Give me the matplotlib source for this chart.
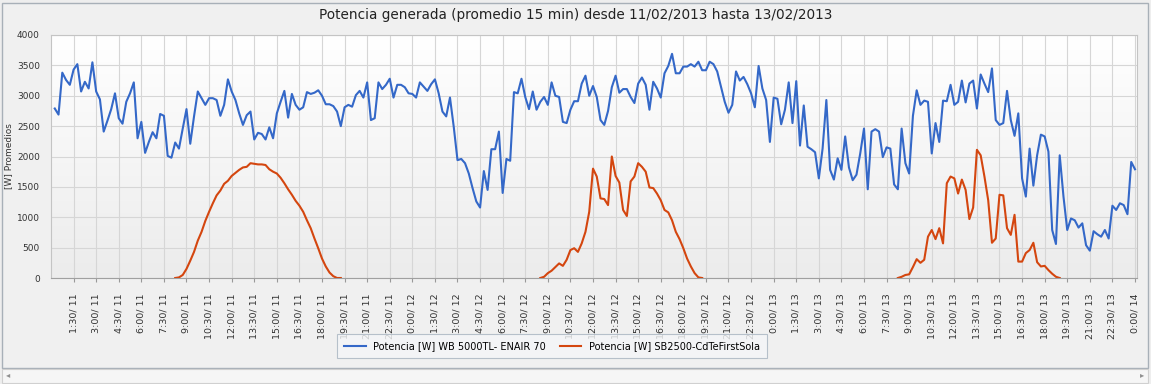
import numpy as np
import pandas as pd
import matplotlib
matplotlib.use("Agg")
import matplotlib.pyplot as plt
from matplotlib.patches import Rectangle

# Datos (promedio 15 min)
inicio = "2013-02-11 00:15"

potencia_wb = [
    2790, 2690, 3380, 3260, 3180, 3430, 3520, 3070, 3230, 3120, 3550, 3070,
    2940, 2410, 2590, 2780, 3040, 2630, 2540, 2900, 3040, 3220, 2300, 2570,
    2060, 2240, 2400, 2300, 2700, 2670, 2010, 1980, 2230, 2130, 2460, 2780,
    2210, 2660, 3070, 2960, 2850, 2960, 2960, 2930, 2670, 2850, 3270, 3070,
    2930, 2710, 2520, 2680, 2740, 2280, 2390, 2370, 2280, 2480, 2300, 2710,
    2900, 3080, 2640, 3030, 2850, 2770, 2810, 3060, 3030, 3050, 3090, 3000,
    2860, 2860, 2830, 2740, 2500, 2810, 2850, 2820, 3010, 3080, 2970, 3220,
    2600, 2630, 3220, 3110, 3180, 3280, 2970, 3180, 3180, 3140, 3040, 3030,
    2970, 3220, 3150, 3080, 3190, 3270, 3040, 2740, 2660, 2970, 2490, 1940,
    1960, 1890, 1720, 1480, 1260, 1160, 1760, 1450, 2120, 2120, 2410, 1400,
    1960, 1930, 3060, 3040, 3280, 2980, 2780, 3070, 2770, 2900, 2980, 2850,
    3220, 3000, 2980, 2570, 2550, 2770, 2910, 2910, 3200, 3330, 3000, 3160,
    2980, 2600, 2520, 2750, 3140, 3330, 3050, 3110, 3110, 2980, 2880, 3200,
    3300, 3180, 2770, 3230, 3120, 2970, 3370, 3490, 3690, 3370, 3370, 3480,
    3480, 3520, 3480, 3560, 3420, 3420, 3560, 3520, 3400, 3150, 2900, 2720,
    2850, 3400, 3250, 3310, 3190, 3040, 2810, 3490, 3120, 2930, 2240, 2970,
    2950, 2530, 2770, 3220, 2550, 3240, 2180, 2840, 2160, 2120, 2070, 1640,
    2130, 2930, 1780, 1620, 1970, 1780, 2330, 1820, 1610, 1700, 2050, 2460,
    1460, 2410, 2450, 2410, 1990, 2150, 2130, 1540, 1460, 2460, 1890, 1720,
    2670, 3090, 2850, 2920, 2900, 2050, 2550, 2240, 2920, 2910, 3180, 2850,
    2900, 3250, 2890, 3200, 3250, 2790, 3350, 3200, 3060, 3450, 2600, 2520,
    2550, 3080, 2600, 2340, 2710, 1640, 1340, 2130, 1520, 2020, 2360, 2330,
    2080, 790, 560, 2020, 1340, 790, 980, 950, 830, 900, 540, 450,
    770, 720, 680, 790, 650, 1190, 1120, 1230, 1200, 1050, 1910, 1790,
]

# SB2500 solo produce de dia: un tramo por dia
inicio_sb_11 = "2013-02-11 08:15"
potencia_sb_11 = [
    0, 10, 50, 150, 285, 430, 615, 760, 940, 1090, 1230, 1360, 1440, 1550, 1600,
    1680, 1730, 1780, 1820, 1830, 1890, 1880, 1870, 1870, 1860, 1790, 1750, 1720,
    1650, 1560, 1460, 1370, 1270, 1190, 1090, 950, 820, 650, 490, 320, 190, 90,
    30, 0, 0,
]
inicio_sb_12 = "2013-02-12 08:30"
potencia_sb_12 = [
    0, 20, 80, 120, 180, 240, 200, 300, 460, 490, 430, 570, 760, 1090, 1800,
    1670, 1310, 1300, 1200, 2000, 1680, 1570, 1120, 1020, 1590, 1670, 1890, 1830,
    1750, 1490, 1480, 1390, 1280, 1120, 1080, 950, 760, 640, 490, 320, 190, 80,
    10, 0,
]
inicio_sb_13 = "2013-02-13 08:15"
potencia_sb_13 = [
    0, 20, 50, 60, 180, 310, 250, 300, 680, 790, 640, 820, 570, 1560, 1670, 1640,
    1390, 1620, 1450, 970, 1160, 2110, 2020, 1670, 1280, 580, 650, 1370, 1360,
    820, 710, 1040, 270, 270, 410, 460, 580, 260, 190, 200, 130, 70, 20, 0,
]

nombre_wb = "Potencia [W] WB 5000TL- ENAIR 70"
nombre_sb = "Potencia [W] SB2500-CdTeFirstSola"
titulo = "Potencia generada (promedio 15 min) desde 11/02/2013 hasta 13/02/2013"

azul = "#3468c8"
naranja = "#d4460f"

W, H = 1151, 384
fig = plt.figure(figsize=(W / 100, H / 100), dpi=100)
fig.patch.set_facecolor("#eeeeee")

# marco exterior y barra de desplazamiento (detras de los ejes)
fig.patches.append(Rectangle((2 / W, 1 - 368 / H), 1146 / W, 365 / H,
                             transform=fig.transFigure, facecolor="#f0f0f0",
                             edgecolor="#a8b0b8", linewidth=1, zorder=-10))
fig.patches.append(Rectangle((2 / W, 1 - 383 / H), 1146 / W, 14 / H,
                             transform=fig.transFigure, facecolor="#f6f6f6",
                             edgecolor="#d0d0d0", linewidth=0.8, zorder=-10))
fig.text(6 / W, 1 - 375 / H, "◂", fontsize=6, color="#909090", va="center")
fig.text(1144 / W, 1 - 375 / H, "▸", fontsize=6, color="#909090", va="center", ha="right")

ax = fig.add_axes([51 / W, 1 - 278 / H, (1137 - 51) / W, (278 - 35) / H])
ax.set_zorder(5)

# fondo degradado del area de trazado
grad = np.linspace(0, 1, 100).reshape(-1, 1)
ax.imshow(grad, extent=[0, 1, 0, 1], transform=ax.transAxes, aspect="auto",
          cmap=matplotlib.colors.LinearSegmentedColormap.from_list("g", ["#ececec", "#ffffff"]),
          zorder=0, origin="lower")

t_wb = pd.date_range(inicio, periods=len(potencia_wb), freq="15min")
ax.plot(t_wb, potencia_wb, color=azul, linewidth=1.5, label=nombre_wb, zorder=3)

tramos = [(inicio_sb_11, potencia_sb_11), (inicio_sb_12, potencia_sb_12),
          (inicio_sb_13, potencia_sb_13)]
for i, (t0, vals) in enumerate(tramos):
    t = pd.date_range(t0, periods=len(vals), freq="15min")
    ax.plot(t, vals, color=naranja, linewidth=1.5,
            label=nombre_sb if i == 0 else None, zorder=3)

ax.set_xlim(pd.Timestamp("2013-02-11 00:00"), pd.Timestamp("2013-02-14 00:08"))
ax.set_ylim(0, 4000)
ax.set_yticks(np.arange(0, 4001, 500))
ax.tick_params(axis="y", labelsize=6.5, length=0, pad=8, colors="#333333")

ticks = pd.date_range("2013-02-11 01:30", "2013-02-14 00:00", freq="90min")
ax.set_xticks(ticks)
ax.set_xticklabels([f"{t.hour}:{t.minute:02d}/ {t.day}" for t in ticks],
                   rotation=90, fontsize=6.8, color="#333333")
ax.tick_params(axis="x", length=3, color="#999999", pad=8)

ax.grid(True, color="#d6d6d6", linewidth=0.8)
ax.set_axisbelow(True)
for s in ax.spines.values():
    s.set_color("#c4c4c4")
    s.set_linewidth(0.8)
ax.spines["bottom"].set_color("#a0a0a0")

ax.set_ylabel("[W] Promedios", fontsize=6.5, color="#333333", labelpad=3)

fig.text(0.5, 1 - 15 / H, titulo, ha="center", va="center", fontsize=9.8, color="#222222")

leg = fig.legend(loc="center", bbox_to_anchor=(552 / W, 1 - 346 / H), ncol=2,
                 fontsize=7, frameon=True, fancybox=False, handlelength=2.2,
                 columnspacing=1.4, borderpad=0.75)
leg.get_frame().set_edgecolor("#a8b4c0")
leg.get_frame().set_facecolor("#f4f6f8")
leg.get_frame().set_linewidth(0.8)

fig.savefig("out.png", dpi=100, facecolor=fig.get_facecolor())
